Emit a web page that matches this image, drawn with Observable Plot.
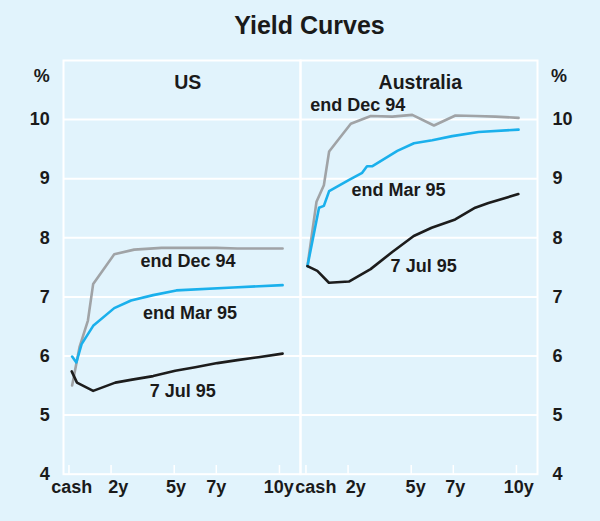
<!DOCTYPE html>
<html>
<head>
<meta charset="utf-8">
<script src="https://cdn.jsdelivr.net/npm/d3@7"></script>
<script src="https://cdn.jsdelivr.net/npm/@observablehq/plot@0.6"></script>
<style>
  html, body { margin: 0; padding: 0; background: #e1f3fc; }
  body { width: 600px; height: 521px; overflow: hidden; font-family: "Liberation Sans", Arial, sans-serif; color: #1a1a1a; }
  #title { height: 50px; line-height: 50px; text-align: center; font-size: 25px; font-weight: bold; padding-left: 19px; box-sizing: border-box; }
</style>
</head>
<body>
<div id="title">Yield Curves</div>
<div id="chart"></div>
<script>
// ---- data (maturity in years, yield in %) ----
const countries = ["US", "Australia"];
const seriesNames = ["end Dec 94", "end Mar 95", "7 Jul 95"];
const seriesColors = ["#a0a3a6", "#1ab0ec", "#1c1c1c"];

const usDec94 = [[0.15,5.5],[0.5,6.15],[0.9,6.6],[1.15,7.22],[2.15,7.72],[3.1,7.8],[4.4,7.83],[5,7.83],[7,7.83],[8,7.82],[10.15,7.82]];
const usMar95 = [[0.15,5.99],[0.35,5.89],[0.6,6.2],[1.15,6.51],[2.15,6.81],[2.95,6.94],[4,7.03],[5.1,7.11],[7.8,7.16],[10.15,7.2]];
const usJul95 = [[0.13,5.74],[0.38,5.55],[1.15,5.41],[2.2,5.55],[3,5.6],[4,5.66],[5.05,5.75],[6,5.81],[7.05,5.88],[8,5.93],[9,5.98],[10.15,6.04]];

const auDec94 = [[0.07,7.52],[0.5,8.61],[0.85,8.89],[1.1,9.46],[1.58,9.68],[2.13,9.93],[3.08,10.06],[4.1,10.05],[5.05,10.08],[6.08,9.9],[7.1,10.07],[8.06,10.06],[9,10.05],[10.1,10.03]];
const auMar95 = [[0.07,7.52],[0.62,8.51],[0.85,8.54],[1.1,8.79],[2.05,8.98],[2.67,9.1],[2.9,9.21],[3.14,9.21],[4.34,9.47],[5.13,9.6],[6,9.65],[6.95,9.72],[8.2,9.79],[10.1,9.83]];
const auJul95 = [[0.07,7.52],[0.54,7.44],[1.09,7.24],[2.04,7.26],[3.07,7.47],[4.1,7.76],[5.12,8.03],[5.97,8.17],[7.09,8.31],[8.04,8.51],[8.67,8.59],[10.09,8.74]];

const xTickValues = [0, 2, 5, 7, 10];
const xTickLabels = ["cash", "2y", "5y", "7y", "10y"];
// where each tick label is centred (years), per panel
const xLabelPosUS = [0.13, 2.34, 5.09, 7.0, 9.97];
const xLabelPosAU = [0.47, 2.37, 5.21, 7.09, 10.11];
const yTickValues = [4, 5, 6, 7, 8, 9, 10];
const gridValues = [5, 6, 7, 8, 9, 10];

// label annotations (position in data units)
const labelCountry = ["US", "US", "US", "Australia", "Australia", "Australia"];
const labelText = ["end Dec 94", "end Mar 95", "7 Jul 95", "end Dec 94", "end Mar 95", "7 Jul 95"];
const labelX = [5.65, 5.75, 5.41, 2.46, 4.40, 5.59];
const labelY = [7.60, 6.73, 5.41, 10.25, 8.81, 7.52];
const panelTitleX = [5.64, 5.43];

// ---- build tables ----
const seriesData = {
  US: [usDec94, usMar95, usJul95],
  Australia: [auDec94, auMar95, auJul95]
};
const rows = [];
for (const c of countries) {
  seriesData[c].forEach((pts, si) => {
    for (const [m, v] of pts) rows.push({country: c, series: seriesNames[si], maturity: m, yield: v});
  });
}
const labels = labelText.map((t, i) => ({country: labelCountry[i], text: t, x: labelX[i], y: labelY[i]}));
const panelTitles = countries.map((c, i) => ({country: c, x: panelTitleX[i]}));
const tickLabels = [
  ...xTickLabels.map((t, i) => ({country: "US", text: t, x: xLabelPosUS[i]})),
  ...xTickLabels.map((t, i) => ({country: "Australia", text: t, x: xLabelPosAU[i]}))
];

const textColor = "#1a1a1a";
const font = "Liberation Sans, Arial, sans-serif";

const chart = Plot.plot({
  width: 600,
  height: 471,
  marginTop: 10,
  marginBottom: 47.3,
  marginLeft: 62.7,
  marginRight: 61.7,
  style: {background: "transparent", fontFamily: font, fontSize: "18px", fontWeight: "bold", color: textColor, overflow: "visible"},
  fx: {domain: countries, padding: 0, axis: null},
  x: {domain: [-0.26, 11.0], axis: null},
  y: {domain: [4, 11]},
  color: {domain: seriesNames, range: seriesColors},
  marks: [
    Plot.ruleY(gridValues, {stroke: "white", strokeWidth: 2}),
    Plot.frame({stroke: "white", strokeWidth: 2}),
    Plot.tickX(xTickValues, {x: d => d, stroke: "white", strokeWidth: 1.5, insetTop: 405}),
    Plot.text(tickLabels, {fx: "country", x: "x", text: "text", frameAnchor: "bottom", lineAnchor: "top", dy: 6.3, fontSize: 18, fontWeight: "bold", fill: textColor}),
    Plot.axisY(yTickValues, {anchor: "left", tickSize: 0, tickPadding: 13.7, tickFormat: "d", fontSize: 18, fontWeight: "bold", fill: textColor, label: null}),
    Plot.axisY(yTickValues, {anchor: "right", tickSize: 0, tickPadding: 15, tickFormat: "d", fontSize: 18, fontWeight: "bold", fill: textColor, label: null}),
    Plot.text([{country: "US", t: "%"}], {fx: "country", text: "t", frameAnchor: "top-left", textAnchor: "end", dx: -13.7, dy: 9, fontSize: 18, fontWeight: "bold", fill: textColor}),
    Plot.text([{country: "Australia", t: "%"}], {fx: "country", text: "t", frameAnchor: "top-right", textAnchor: "start", dx: 13.4, dy: 9, fontSize: 18, fontWeight: "bold", fill: textColor}),
    Plot.text(panelTitles, {fx: "country", x: "x", text: "country", frameAnchor: "top", dy: 14.5, fontSize: 19.5, fontWeight: "bold", fill: textColor}),
    Plot.line(rows, {fx: "country", x: "maturity", y: "yield", stroke: "series", z: "series", strokeWidth: 2.6, strokeLinejoin: "round"}),
    Plot.text(labels, {fx: "country", x: "x", y: "y", text: "text", fontSize: 18, fontWeight: "bold", fill: textColor})
  ]
});
document.getElementById("chart").appendChild(chart);
</script>
</body>
</html>
